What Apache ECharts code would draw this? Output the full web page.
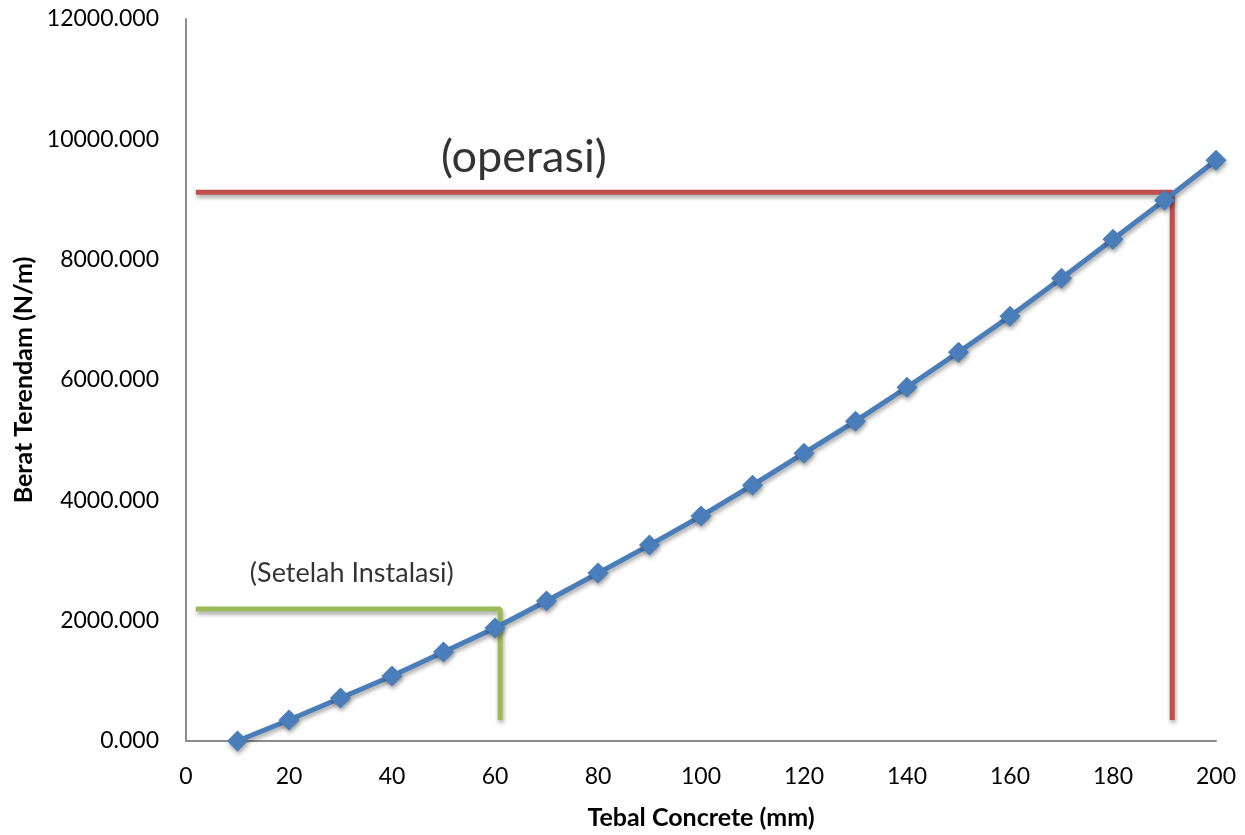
<!DOCTYPE html>
<html>
<head>
<meta charset="utf-8">
<script src="https://cdn.jsdelivr.net/npm/echarts@6/dist/echarts.min.js"></script>
<style>
  html, body { margin: 0; padding: 0; background: #fff; }
  #chart { width: 1245px; height: 835px; }
</style>
</head>
<body>
<div id="chart"></div>
<script>
// Submerged weight vs concrete coating thickness
const thickness = [10, 20, 30, 40, 50, 60, 70, 80, 90, 100, 110, 120, 130, 140, 150, 160, 170, 180, 190, 200];
const weight = [0, 349, 714, 1080, 1478, 1877, 2326, 2791, 3256, 3738, 4252, 4784, 5316, 5880, 6462, 7060, 7691, 8339, 8987, 9651];

// Guide lines: operating condition (red) and after installation (green)
const operasiGuide = [[1.9, 9120], [191.5, 9120], [191.5, 349]];
const instalasiGuide = [[1.9, 2193], [61, 2193], [61, 349]];

// Annotation text anchors (data coordinates)
const notes = [
  { text: '(operasi)', at: [65.6, 9700], size: 45 },
  { text: '(Setelah Instalasi)', at: [32.2, 2790], size: 27 }
];

const FONT = 'Lato, "Open Sans", sans-serif';
const chart = echarts.init(document.getElementById('chart'));

const shadow = { shadowColor: 'rgba(0,0,0,0.35)', shadowBlur: 4, shadowOffsetX: 1, shadowOffsetY: 3 };

chart.setOption({
  animation: false,
  backgroundColor: '#ffffff',
  grid: { left: 186, right: 29, top: 19, bottom: 94, containLabel: false, outerBoundsMode: 'none' },
  xAxis: {
    type: 'value', min: 0, max: 200, interval: 20,
    name: 'Tebal Concrete (mm)', nameLocation: 'middle', nameGap: 64,
    nameTextStyle: { fontFamily: FONT, fontSize: 25, fontWeight: 'bold', color: '#000' },
    axisLine: { show: true, lineStyle: { color: '#8c8c8c', width: 2 } },
    axisTick: { show: false },
    splitLine: { show: false },
    axisLabel: { fontFamily: FONT, fontSize: 23, color: '#000', margin: 24 }
  },
  yAxis: {
    type: 'value', min: 0, max: 12000, interval: 2000,
    name: 'Berat Terendam (N/m)', nameLocation: 'middle', nameGap: 150,
    nameTextStyle: { fontFamily: FONT, fontSize: 25, fontWeight: 'bold', color: '#000' },
    axisLine: { show: true, lineStyle: { color: '#8c8c8c', width: 2 } },
    axisTick: { show: false },
    splitLine: { show: false },
    axisLabel: { fontFamily: FONT, fontSize: 23, color: '#000', margin: 27,
      formatter: v => v.toFixed(3) }
  },
  series: [
    {
      type: 'line', data: operasiGuide, symbol: 'none', z: 2,
      lineStyle: Object.assign({ color: '#C0504D', width: 5 }, shadow)
    },
    {
      type: 'line', data: instalasiGuide, symbol: 'none', z: 2,
      lineStyle: Object.assign({ color: '#9BBB59', width: 5 }, shadow)
    },
    {
      type: 'line',
      data: thickness.map((t, i) => [t, weight[i]]),
      symbol: 'diamond', symbolSize: 21, z: 3,
      itemStyle: Object.assign({ color: '#4A7EBB' }, shadow),
      lineStyle: Object.assign({ color: '#4A7EBB', width: 5 }, shadow)
    },
    {
      type: 'scatter', symbolSize: 0, z: 4, silent: true,
      data: notes.map(n => ({
        value: n.at,
        label: { show: true, position: 'inside', formatter: n.text,
          fontFamily: FONT, fontSize: n.size, color: '#000' }
      }))
    }
  ]
});
</script>
</body>
</html>
